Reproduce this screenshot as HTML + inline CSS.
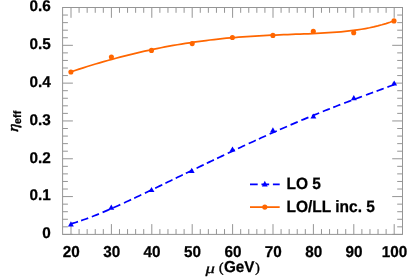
<!DOCTYPE html><html><head><meta charset="utf-8"><style>html,body{margin:0;padding:0;background:#fff}svg{display:block;will-change:transform}text{font-family:"Liberation Sans",sans-serif;font-weight:bold;fill:#000;stroke:#000;stroke-width:0.25px;stroke-linejoin:round;text-rendering:geometricPrecision}</style></head><body>
<svg width="415" height="277" viewBox="0 0 415 277">
<rect width="415" height="277" fill="#fff"/>
<path d="M71.00 234.4v-10.3M71.00 7.5v10.3M79.08 234.4v-5.3M79.08 7.5v5.3M87.16 234.4v-5.3M87.16 7.5v5.3M95.24 234.4v-5.3M95.24 7.5v5.3M103.32 234.4v-5.3M103.32 7.5v5.3M111.40 234.4v-10.3M111.40 7.5v10.3M119.48 234.4v-5.3M119.48 7.5v5.3M127.56 234.4v-5.3M127.56 7.5v5.3M135.64 234.4v-5.3M135.64 7.5v5.3M143.72 234.4v-5.3M143.72 7.5v5.3M151.80 234.4v-10.3M151.80 7.5v10.3M159.88 234.4v-5.3M159.88 7.5v5.3M167.96 234.4v-5.3M167.96 7.5v5.3M176.04 234.4v-5.3M176.04 7.5v5.3M184.12 234.4v-5.3M184.12 7.5v5.3M192.20 234.4v-10.3M192.20 7.5v10.3M200.28 234.4v-5.3M200.28 7.5v5.3M208.36 234.4v-5.3M208.36 7.5v5.3M216.44 234.4v-5.3M216.44 7.5v5.3M224.52 234.4v-5.3M224.52 7.5v5.3M232.60 234.4v-10.3M232.60 7.5v10.3M240.68 234.4v-5.3M240.68 7.5v5.3M248.76 234.4v-5.3M248.76 7.5v5.3M256.84 234.4v-5.3M256.84 7.5v5.3M264.92 234.4v-5.3M264.92 7.5v5.3M273.00 234.4v-10.3M273.00 7.5v10.3M281.08 234.4v-5.3M281.08 7.5v5.3M289.16 234.4v-5.3M289.16 7.5v5.3M297.24 234.4v-5.3M297.24 7.5v5.3M305.32 234.4v-5.3M305.32 7.5v5.3M313.40 234.4v-10.3M313.40 7.5v10.3M321.48 234.4v-5.3M321.48 7.5v5.3M329.56 234.4v-5.3M329.56 7.5v5.3M337.64 234.4v-5.3M337.64 7.5v5.3M345.72 234.4v-5.3M345.72 7.5v5.3M353.80 234.4v-10.3M353.80 7.5v10.3M361.88 234.4v-5.3M361.88 7.5v5.3M369.96 234.4v-5.3M369.96 7.5v5.3M378.04 234.4v-5.3M378.04 7.5v5.3M386.12 234.4v-5.3M386.12 7.5v5.3M394.20 234.4v-10.3M394.20 7.5v10.3M62.6 234.40h10.3M402.5 234.40h-10.3M62.6 226.84h5.3M402.5 226.84h-5.3M62.6 219.27h5.3M402.5 219.27h-5.3M62.6 211.71h5.3M402.5 211.71h-5.3M62.6 204.15h5.3M402.5 204.15h-5.3M62.6 196.58h10.3M402.5 196.58h-10.3M62.6 189.02h5.3M402.5 189.02h-5.3M62.6 181.46h5.3M402.5 181.46h-5.3M62.6 173.89h5.3M402.5 173.89h-5.3M62.6 166.33h5.3M402.5 166.33h-5.3M62.6 158.77h10.3M402.5 158.77h-10.3M62.6 151.20h5.3M402.5 151.20h-5.3M62.6 143.64h5.3M402.5 143.64h-5.3M62.6 136.08h5.3M402.5 136.08h-5.3M62.6 128.51h5.3M402.5 128.51h-5.3M62.6 120.95h10.3M402.5 120.95h-10.3M62.6 113.39h5.3M402.5 113.39h-5.3M62.6 105.82h5.3M402.5 105.82h-5.3M62.6 98.26h5.3M402.5 98.26h-5.3M62.6 90.70h5.3M402.5 90.70h-5.3M62.6 83.13h10.3M402.5 83.13h-10.3M62.6 75.57h5.3M402.5 75.57h-5.3M62.6 68.01h5.3M402.5 68.01h-5.3M62.6 60.44h5.3M402.5 60.44h-5.3M62.6 52.88h5.3M402.5 52.88h-5.3M62.6 45.32h10.3M402.5 45.32h-10.3M62.6 37.75h5.3M402.5 37.75h-5.3M62.6 30.19h5.3M402.5 30.19h-5.3M62.6 22.63h5.3M402.5 22.63h-5.3M62.6 15.06h5.3M402.5 15.06h-5.3M62.6 7.50h10.3M402.5 7.50h-10.3" stroke="#959595" stroke-width="1" fill="none"/>
<rect x="62.6" y="7.5" width="339.9" height="226.9" fill="none" stroke="#959595" stroke-width="1"/>
<path d="M70.90 71.82 L74.99 70.46 L79.08 69.13 L83.17 67.82 L87.26 66.53 L91.36 65.27 L95.45 64.03 L99.54 62.82 L103.63 61.64 L107.72 60.48 L111.81 59.34 L115.90 58.23 L119.99 57.15 L124.08 56.09 L128.18 55.06 L132.27 54.05 L136.36 53.08 L140.45 52.12 L144.54 51.20 L148.63 50.30 L152.72 49.43 L156.81 48.58 L160.91 47.76 L165.00 46.97 L169.09 46.20 L173.18 45.46 L177.27 44.75 L181.36 44.07 L185.45 43.41 L189.54 42.77 L193.63 42.17 L197.73 41.59 L201.82 41.03 L205.91 40.51 L210.00 40.00 L214.09 39.53 L218.18 39.08 L222.27 38.65 L226.36 38.24 L230.45 37.86 L234.55 37.51 L238.64 37.17 L242.73 36.86 L246.82 36.57 L250.91 36.29 L255.00 36.04 L259.09 35.80 L263.18 35.58 L267.27 35.38 L271.37 35.19 L275.46 35.01 L279.55 34.84 L283.64 34.68 L287.73 34.52 L291.82 34.37 L295.91 34.22 L300.00 34.07 L304.09 33.92 L308.19 33.76 L312.28 33.59 L316.37 33.40 L320.46 33.20 L324.55 32.98 L328.64 32.73 L332.73 32.45 L336.82 32.14 L340.92 31.79 L345.01 31.39 L349.10 30.95 L353.19 30.44 L357.28 29.88 L361.37 29.24 L365.46 28.53 L369.55 27.74 L373.64 26.85 L377.74 25.86 L381.83 24.77 L385.92 23.56 L390.01 22.22 L394.10 20.74" stroke="#ff6600" stroke-width="1.75" fill="none"/>
<circle cx="70.9" cy="72.0" r="2.55" fill="#ff6600"/>
<circle cx="111.4" cy="57.0" r="2.55" fill="#ff6600"/>
<circle cx="151.5" cy="50.4" r="2.55" fill="#ff6600"/>
<circle cx="192.2" cy="43.6" r="2.55" fill="#ff6600"/>
<circle cx="232.4" cy="37.5" r="2.55" fill="#ff6600"/>
<circle cx="272.9" cy="35.4" r="2.55" fill="#ff6600"/>
<circle cx="313.3" cy="31.4" r="2.55" fill="#ff6600"/>
<circle cx="353.7" cy="32.75" r="2.55" fill="#ff6600"/>
<circle cx="394.0" cy="20.9" r="2.55" fill="#ff6600"/>
<path d="M70.90 223.88 L73.27 223.17 L75.63 222.44 L78.00 221.68M81.10 220.63 L83.47 219.81 L85.83 218.96 L88.20 218.09M91.85 216.70 L94.22 215.78 L96.58 214.84 L98.95 213.88M102.60 212.37 L104.97 211.37 L107.33 210.36 L109.70 209.34M113.20 207.80 L115.57 206.75 L117.93 205.69 L120.30 204.62M124.00 202.93 L126.37 201.84 L128.73 200.75 L131.10 199.64M134.20 198.19 L136.57 197.07 L138.93 195.96 L141.30 194.83M144.90 193.12 L147.27 191.98 L149.63 190.85 L152.00 189.71M155.20 188.17 L157.57 187.03 L159.93 185.89 L162.30 184.74M165.40 183.24 L167.77 182.10 L170.13 180.95 L172.50 179.81M175.70 178.26 L178.07 177.11 L180.43 175.96 L182.80 174.82M185.85 173.35 L188.22 172.20 L190.58 171.06 L192.95 169.92M196.60 168.16 L198.97 167.02 L201.33 165.89 L203.70 164.75M206.80 163.27 L209.17 162.14 L211.53 161.01 L213.90 159.88M217.10 158.36 L219.47 157.24 L221.83 156.12 L224.20 155.00M227.75 153.33 L230.12 152.22 L232.48 151.11 L234.85 150.00M238.00 148.53 L240.37 147.43 L242.73 146.33 L245.10 145.24M248.70 143.58 L251.07 142.49 L253.43 141.41 L255.80 140.33M258.90 138.92 L261.27 137.85 L263.63 136.78 L266.00 135.71M269.65 134.08 L272.02 133.02 L274.38 131.97 L276.75 130.93M279.90 129.54 L282.27 128.50 L284.63 127.47 L287.00 126.44M290.60 124.89 L292.97 123.88 L295.33 122.87 L297.70 121.86M301.30 120.34 L303.67 119.35 L306.03 118.36 L308.40 117.38M312.05 115.87 L314.42 114.90 L316.78 113.94 L319.15 112.98M322.80 111.51 L325.17 110.57 L327.53 109.63 L329.90 108.69M333.20 107.40 L335.57 106.48 L337.93 105.56 L340.30 104.65M344.20 103.15 L346.57 102.25 L348.93 101.36 L351.30 100.47M354.90 99.12 L357.27 98.23 L359.63 97.35 L362.00 96.47M366.00 95.00 L368.37 94.12 L370.73 93.25 L373.10 92.38M376.60 91.09 L378.97 90.22 L381.33 89.35 L383.70 88.47M387.40 87.10 L389.63 86.27 L391.87 85.43 L394.10 84.59" stroke="#0000ff" stroke-width="1.7" fill="none"/>
<path d="M67.95 226.40L73.85 226.40L70.90 221.20Z" fill="#0000ff"/>
<path d="M108.35 209.70L114.25 209.70L111.30 204.50Z" fill="#0000ff"/>
<path d="M148.55 192.10L154.45 192.10L151.50 186.90Z" fill="#0000ff"/>
<path d="M188.75 172.95L194.65 172.95L191.70 167.75Z" fill="#0000ff"/>
<path d="M229.55 151.60L235.45 151.60L232.50 146.40Z" fill="#0000ff"/>
<path d="M269.95 132.45L275.85 132.45L272.90 127.25Z" fill="#0000ff"/>
<path d="M310.45 118.60L316.35 118.60L313.40 113.40Z" fill="#0000ff"/>
<path d="M350.85 100.30L356.75 100.30L353.80 95.10Z" fill="#0000ff"/>
<path d="M391.25 85.60L397.15 85.60L394.20 80.40Z" fill="#0000ff"/>
<text transform="translate(50.8 238.20) scale(1 1.015)" font-size="15.3" text-anchor="end">0</text>
<text transform="translate(50.8 200.38) scale(1 1.015)" font-size="15.3" text-anchor="end">0.1</text>
<text transform="translate(50.8 162.57) scale(1 1.015)" font-size="15.3" text-anchor="end">0.2</text>
<text transform="translate(50.8 124.75) scale(1 1.015)" font-size="15.3" text-anchor="end">0.3</text>
<text transform="translate(50.8 86.93) scale(1 1.015)" font-size="15.3" text-anchor="end">0.4</text>
<text transform="translate(50.8 49.12) scale(1 1.015)" font-size="15.3" text-anchor="end">0.5</text>
<text transform="translate(50.8 11.30) scale(1 1.015)" font-size="15.3" text-anchor="end">0.6</text>
<text transform="translate(71.30 256.55) scale(1 1.03)" font-size="15.3" text-anchor="middle">20</text>
<text transform="translate(111.70 256.55) scale(1 1.03)" font-size="15.3" text-anchor="middle">30</text>
<text transform="translate(152.10 256.55) scale(1 1.03)" font-size="15.3" text-anchor="middle">40</text>
<text transform="translate(192.50 256.55) scale(1 1.03)" font-size="15.3" text-anchor="middle">50</text>
<text transform="translate(232.90 256.55) scale(1 1.03)" font-size="15.3" text-anchor="middle">60</text>
<text transform="translate(273.30 256.55) scale(1 1.03)" font-size="15.3" text-anchor="middle">70</text>
<text transform="translate(313.70 256.55) scale(1 1.03)" font-size="15.3" text-anchor="middle">80</text>
<text transform="translate(354.10 256.55) scale(1 1.03)" font-size="15.3" text-anchor="middle">90</text>
<text transform="translate(394.50 256.55) scale(1 1.03)" font-size="15.3" text-anchor="middle">100</text>
<text transform="translate(205.4 272.8) scale(1.3 1)" style="font-family:Liberation Serif,serif;font-style:italic;font-weight:normal;stroke-width:0.3px" font-size="14.4">μ</text>
<text transform="translate(218.9 272.0)" style="font-family:Liberation Serif,serif;font-weight:normal;stroke-width:0.45px" font-size="13.6">(</text>
<text transform="translate(223.9 272) scale(1 1.03)" font-size="15.3">GeV</text>
<text transform="translate(255.3 272.0)" style="font-family:Liberation Serif,serif;font-weight:normal;stroke-width:0.45px" font-size="13.6">)</text>
<text transform="translate(17.85 132.0) rotate(-90) skewX(-5) scale(1.08 1)" style="font-family:Liberation Serif,serif;font-style:italic;font-weight:normal;stroke-width:0.5px" font-size="15">η</text>
<text transform="translate(21.0 123.9) rotate(-90)" font-size="10.8">eff</text>
<path d="M250 184.4H279.7" stroke="#0000ff" stroke-width="1.7" stroke-dasharray="7.7 3.75" fill="none"/>
<path d="M261.90 186.45L267.70 186.45L264.80 180.75Z" fill="#0000ff"/>
<text transform="translate(286.5 188.8) scale(1 1.06)" font-size="15.5">LO 5</text>
<path d="M250 207.1H279.7" stroke="#ff6600" stroke-width="1.75" fill="none"/>
<circle cx="264.8" cy="207.1" r="2.6" fill="#ff6600"/>
<text transform="translate(286.5 211.6) scale(1 1.06)" font-size="15.5">LO/LL inc. 5</text>
</svg></body></html>
